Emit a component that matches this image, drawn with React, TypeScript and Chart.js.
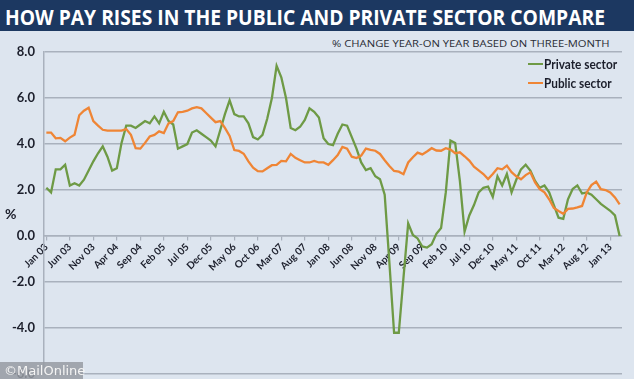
import React, { useEffect, useLayoutEffect, useRef } from 'react';
import { Chart, registerables } from 'chart.js';

Chart.register(...registerables);

const TITLE = 'HOW PAY RISES IN THE PUBLIC AND PRIVATE SECTOR COMPARE';
const SUBTITLE = '% CHANGE YEAR-ON YEAR BASED ON THREE-MONTH';

const TICK_LABELS = [
  'Jan 03', 'Jun 03', 'Nov 03', 'Apr 04', 'Sep 04', 'Feb 05', 'Jul 05', 'Dec 05', 'May 06',
  'Oct 06', 'Mar 07', 'Aug 07', 'Jan 08', 'Jun 08', 'Nov 08', 'Apr 09', 'Sep 09', 'Feb 10',
  'Jul 10', 'Dec 10', 'May 11', 'Oct 11', 'Mar 12', 'Aug 12', 'Jan 13',
];

// Monthly values, Jan 03 .. Mar 13
const PRIVATE_SECTOR = [
  2.1, 1.9, 2.9, 2.9, 3.1, 2.2, 2.3, 2.2, 2.45, 2.85, 3.25, 3.6,
  3.9, 3.45, 2.85, 2.95, 4.05, 4.8, 4.8, 4.7, 4.85, 5.0, 4.9, 5.2,
  4.9, 5.4, 5.0, 4.85, 3.8, 3.9, 4.0, 4.5, 4.6, 4.45, 4.3, 4.15,
  3.9, 4.6, 5.3, 5.9, 5.3, 5.2, 5.2, 4.9, 4.3, 4.2, 4.4, 5.1,
  6.0, 7.4, 6.9, 6.0, 4.7, 4.6, 4.75, 5.05, 5.55, 5.4, 5.15, 4.25,
  4.0, 3.95, 4.45, 4.85, 4.8, 4.3, 3.8, 3.2, 2.87, 2.95, 2.6, 2.47,
  1.8, -1.15, -4.2, -4.2, -1.8, 0.55, 0.05, -0.1, -0.45, -0.5, -0.35, 0.1,
  0.35, 1.9, 4.15, 4.05, 2.4, 0.2, 0.9, 1.35, 1.9, 2.1, 2.15, 1.7,
  2.6, 2.2, 2.7, 1.9, 2.45, 2.9, 3.1, 2.85, 2.4, 2.1, 2.2, 1.9,
  1.35, 0.8, 0.75, 1.6, 2.05, 2.2, 1.85, 1.9, 1.8, 1.6, 1.4, 1.25,
  1.1, 0.9, 0.0,
];

const PUBLIC_SECTOR = [
  4.5, 4.5, 4.25, 4.27, 4.12, 4.28, 4.4, 5.25, 5.45, 5.58, 5.0, 4.8,
  4.62, 4.58, 4.58, 4.58, 4.58, 4.65, 4.4, 3.82, 3.8, 4.05, 4.33, 4.4,
  4.55, 4.48, 4.9, 5.0, 5.38, 5.4, 5.45, 5.55, 5.6, 5.55, 5.35, 5.15,
  4.95, 5.0, 4.7, 4.35, 3.74, 3.7, 3.58, 3.25, 2.97, 2.82, 2.81, 2.95,
  3.08, 3.1, 3.27, 3.25, 3.57, 3.4, 3.3, 3.2, 3.2, 3.27, 3.2, 3.2,
  3.1, 3.3, 3.52, 3.88, 3.8, 3.45, 3.39, 3.5, 3.8, 3.75, 3.71, 3.57,
  3.3, 3.05, 2.83, 2.8, 2.69, 3.2, 3.43, 3.63, 3.55, 3.68, 3.82, 3.72,
  3.71, 3.82, 3.76, 3.6, 3.64, 3.47, 3.28, 3.02, 2.86, 2.7, 2.48, 2.7,
  2.95, 2.9, 3.06, 2.78, 2.6, 2.47, 2.65, 2.77, 2.33, 2.04, 1.9, 1.6,
  1.22, 1.09, 0.97, 1.18, 1.2, 1.25, 1.31, 1.9, 2.22, 2.37, 2.04, 2.0,
  1.9, 1.68, 1.38,
];

const Y_TICKS = [-6, -4, -2, 0, 2, 4, 6, 8];
const TICK_STEP = 5;

const GREEN = '#6e9a45';
const ORANGE = '#ef8535';
const GRID = '#a9b1bd';
const BG = '#dde5ef';
const NAVY = '#1c3861';
const TEXT = '#1b1e2b';

function FitText(props: { text: string; width: number; style: React.CSSProperties }) {
  const ref = useRef<HTMLSpanElement>(null);
  useLayoutEffect(() => {
    const el = ref.current;
    if (!el) return;
    el.style.transform = 'none';
    const w = el.offsetWidth;
    if (w > 0) el.style.transform = `scaleX(${props.width / w})`;
  }, [props.text, props.width]);
  return (
    <span
      ref={ref}
      style={{ position: 'absolute', whiteSpace: 'nowrap', transformOrigin: '0 0', display: 'inline-block', ...props.style }}
    >
      {props.text}
    </span>
  );
}

export default function App() {
  const canvasRef = useRef<HTMLCanvasElement>(null);

  useEffect(() => {
    document.body.style.margin = '0';
    const canvas = canvasRef.current;
    if (!canvas) return;
    const chart = new Chart(canvas, {
      type: 'line',
      data: {
        datasets: [
          {
            label: 'Private sector',
            data: PRIVATE_SECTOR.map((y, x) => ({ x, y })),
            borderColor: GREEN,
            backgroundColor: GREEN,
            borderWidth: 2.3,
            pointRadius: 0,
            tension: 0,
            order: 1,
          },
          {
            label: 'Public sector',
            data: PUBLIC_SECTOR.map((y, x) => ({ x, y })),
            borderColor: ORANGE,
            backgroundColor: ORANGE,
            borderWidth: 2.3,
            pointRadius: 0,
            tension: 0,
            order: 0,
          },
        ],
      },
      options: {
        animation: false,
        responsive: false,
        maintainAspectRatio: false,
        layout: { padding: { top: 52, right: 12, bottom: 7, left: 0 } },
        plugins: { legend: { display: false }, tooltip: { enabled: false }, title: { display: false } },
        scales: {
          x: {
            type: 'linear',
            position: { y: 0 } as any,
            min: -0.5,
            max: PRIVATE_SECTOR.length - 0.5,
            afterBuildTicks: (s: any) => {
              s.ticks = TICK_LABELS.map((_, k) => ({ value: k * TICK_STEP }));
            },
            ticks: {
              autoSkip: false,
              maxRotation: 45,
              minRotation: 45,
              padding: 1,
              color: TEXT,
              font: { family: 'Lato', size: 10, weight: 'bold' },
              callback: (v: any) => TICK_LABELS[Math.round(Number(v) / TICK_STEP)] ?? '',
            },
            grid: { drawOnChartArea: false, drawTicks: true, tickLength: 4, color: GRID, lineWidth: 1.2 },
            border: { color: GRID, width: 1.5 },
          },
          y: {
            min: -6,
            max: 8,
            afterBuildTicks: (s: any) => {
              s.ticks = Y_TICKS.map((v) => ({ value: v }));
            },
            afterFit: (s: any) => {
              s.width = 44;
            },
            ticks: {
              padding: 9,
              color: TEXT,
              font: { family: 'Lato', size: 13, weight: 'bold' },
              callback: (v: any) => Number(v).toFixed(1),
            },
            grid: { color: GRID, lineWidth: 1.5, drawTicks: false },
            border: { color: GRID, width: 1.5 },
          },
        },
      },
    });
    return () => chart.destroy();
  }, []);

  return (
    <div style={{ position: 'absolute', left: 0, top: 0, width: 634, height: 379, background: BG, overflow: 'hidden', fontFamily: 'Lato, sans-serif' }}>
      <div style={{ position: 'absolute', left: 0, top: 0, width: 634, height: 31, background: NAVY }} />
      <FitText
        text={TITLE}
        width={600}
        style={{ left: 5, top: 1, color: '#ffffff', fontFamily: 'Open Sans', fontWeight: 700, fontSize: 22, lineHeight: '30px' }}
      />
      <FitText
        text={SUBTITLE}
        width={278}
        style={{ left: 332, top: 37, color: '#2a2d36', fontFamily: 'Open Sans', fontSize: 9.5, lineHeight: '13px' }}
      />
      <canvas ref={canvasRef} width={634} height={391} style={{ position: 'absolute', left: 0, top: 0, width: 634, height: 391 }} />
      <div style={{ position: 'absolute', left: 528, top: 63, width: 15, height: 2, background: GREEN }} />
      <FitText
        text="Private sector"
        width={73}
        style={{ left: 544, top: 56, color: TEXT, fontFamily: 'Lato', fontWeight: 700, fontSize: 13, lineHeight: '16px' }}
      />
      <div style={{ position: 'absolute', left: 528, top: 82, width: 15, height: 2, background: ORANGE }} />
      <FitText
        text="Public sector"
        width={68}
        style={{ left: 544, top: 75, color: TEXT, fontFamily: 'Lato', fontWeight: 700, fontSize: 13, lineHeight: '16px' }}
      />
      <span style={{ position: 'absolute', left: 5, top: 205, color: TEXT, fontFamily: 'Lato', fontWeight: 700, fontSize: 14 }}>%</span>
      <div style={{ position: 'absolute', left: 0, top: 362, width: 83, height: 17, background: 'rgba(150,155,162,0.85)' }} />
      <span style={{ position: 'absolute', left: 4, top: 362, color: '#f4f4f4', fontFamily: 'DejaVu Sans', fontSize: 13, lineHeight: '17px', whiteSpace: 'nowrap' }}>©MailOnline</span>
    </div>
  );
}
